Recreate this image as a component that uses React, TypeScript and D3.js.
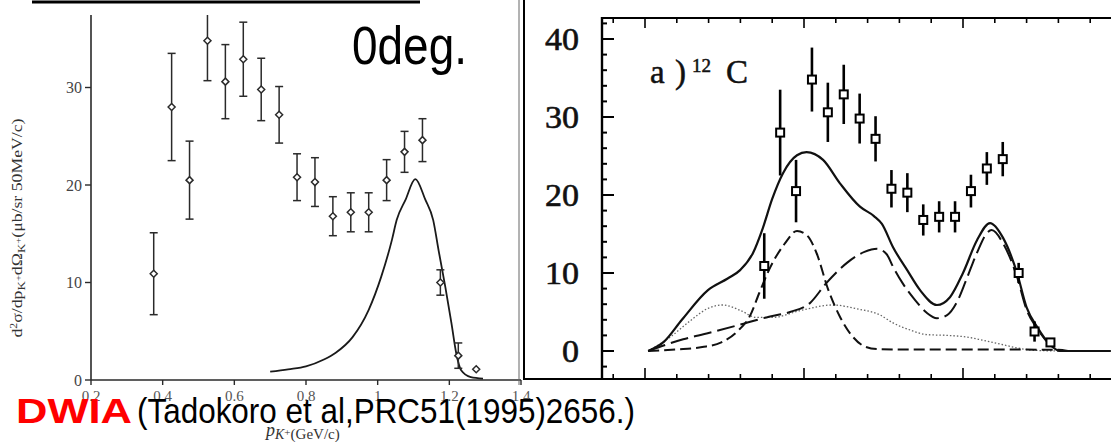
import React from 'react';
import * as d3 from 'd3';

// ---- data (shared by both panels: 12C(pi+,K+) spectrum, 0 deg) ----
const momenta = [0.375, 0.425, 0.475, 0.525, 0.575, 0.625, 0.675, 0.725, 0.775, 0.825, 0.875, 0.925, 0.975, 1.025, 1.075, 1.125, 1.175, 1.225, 1.275];
const crossSection = [10.9, 28.0, 20.5, 34.8, 30.6, 32.9, 29.8, 27.2, 20.8, 20.3, 16.8, 17.2, 17.2, 20.5, 23.4, 24.6, 10.0, 2.5, 1.1];
const errors = [4.2, 5.5, 4.0, 4.1, 3.8, 3.8, 3.2, 2.9, 2.4, 2.5, 2.0, 2.0, 2.0, 2.1, 2.1, 2.2, 1.3, 1.3, 0];

// left panel: DWIA curve
const dwiaP = [0.7, 0.75, 0.8, 0.85, 0.883, 0.93, 0.975, 1.01, 1.04, 1.053, 1.078, 1.105, 1.133, 1.155, 1.17, 1.189, 1.206, 1.219, 1.233, 1.26, 1.294];
const dwiaV = [0.85, 1.1, 1.4, 2.1, 2.8, 4.4, 7.2, 10.6, 14.4, 16.4, 18.5, 20.6, 18.5, 16.4, 13.3, 9.5, 5.8, 2.8, 1.0, 0.3, 0.15];

// right panel: calculated curves
const totalP = [0.01, 0.06, 0.116, 0.198, 0.26, 0.3, 0.34, 0.37, 0.4, 0.434, 0.478, 0.508, 0.56, 0.613, 0.676, 0.72, 0.745, 0.78, 0.824, 0.865, 0.918, 0.959, 1.0, 1.044, 1.085, 1.126, 1.17, 1.2, 1.233, 1.274, 1.305, 1.38, 1.465];
const totalV = [0, 1.2, 4.0, 7.8, 9.3, 10.4, 12.6, 15.7, 19.5, 22.8, 25.1, 25.5, 24.5, 21.5, 18.5, 17.3, 16.3, 13.3, 10.4, 7.8, 5.9, 6.9, 10.0, 14.2, 16.4, 14.5, 10.0, 5.6, 3.1, 0.8, 0, 0, 0];

const longDashP = [0.01, 0.12, 0.2, 0.31, 0.39, 0.456, 0.52, 0.57, 0.635, 0.69, 0.73, 0.76, 0.78, 0.81, 0.85, 0.886, 0.918, 0.95, 0.98, 1.01, 1.044, 1.075, 1.09, 1.126, 1.17, 1.2, 1.233, 1.274, 1.305];
const longDashV = [0, 1.5, 2.3, 3.5, 4.4, 5.0, 6.2, 8.7, 11.3, 12.7, 13.1, 12.4, 10.8, 8.7, 6.5, 4.9, 4.2, 4.6, 6.2, 9.1, 12.6, 15.1, 15.5, 13.8, 9.5, 5.3, 2.9, 0.8, 0];

const medDashP = [0.01, 0.1, 0.18, 0.24, 0.29, 0.33, 0.36, 0.39, 0.44, 0.478, 0.51, 0.54, 0.575, 0.613, 0.648, 0.69, 0.73, 0.8, 1.0, 1.3, 1.33];
const medDashV = [0, 0.2, 0.5, 1.1, 2.5, 4.5, 7.5, 10.4, 13.8, 15.4, 14.8, 12.5, 8.0, 4.4, 2.1, 0.6, 0.25, 0.2, 0.2, 0.15, 0];

const dottedP = [0.01, 0.08, 0.14, 0.2, 0.245, 0.3, 0.35, 0.4, 0.49, 0.59, 0.667, 0.74, 0.78, 0.833, 0.886, 0.95, 1.01, 1.06, 1.126, 1.17, 1.22, 1.3];
const dottedV = [0, 1.8, 3.8, 5.5, 5.9, 5.2, 4.3, 4.3, 5.2, 5.9, 5.4, 4.6, 3.6, 2.7, 2.1, 2.0, 1.8, 1.4, 0.8, 0.4, 0.1, 0];

// ticks
const leftXTicks = [0.2, 0.4, 0.6, 0.8, 1.0, 1.2, 1.4];
const leftXLabels = ['0.2', '0.4', '0.6', '0.8', '1', '1.2', '1.4'];
const leftYTicks = [0, 10, 20, 30];
const rightYTicks = [0, 10, 20, 30, 40];
const rightYMinor = d3.range(-2, 43, 2);
const rightXTicks = d3.range(-1, 15).map((i) => i / 10);

const serif = '"Liberation Serif", "Times New Roman", serif';
const sans = '"Liberation Sans", Arial, sans-serif';

export default function App() {
  // left panel scales
  const lx = d3.scaleLinear().domain([0.2, 1.4]).range([91, 521]);
  const ly = d3.scaleLinear().domain([0, 30]).range([380, 87.5]);
  // right panel scales
  const rx = d3.scaleLinear().domain([0, 1]).range([645, 963]);
  const ry = d3.scaleLinear().domain([0, 40]).range([351, 39]);

  const mkLine = (xs: number[], ys: number[], sx: any, sy: any) =>
    d3
      .line<number>()
      .x((_, i) => sx(xs[i]))
      .y((_, i) => sy(ys[i]))
      .curve(d3.curveMonotoneX)(xs) || '';

  const leftInk = '#2a2a2a';
  const rightInk = '#111';

  return (
    <svg
      width={1111}
      height={442}
      style={{ position: 'absolute', left: 0, top: 0, display: 'block', background: '#fff' }}
    >
      <defs>
        <clipPath id="leftClip">
          <rect x={60} y={15} width={470} height={380} />
        </clipPath>
      </defs>

      {/* top rule */}
      <line x1={32} x2={420} y1={2} y2={2} stroke="#000" strokeWidth={3} />

      {/* ---------------- LEFT PANEL ---------------- */}
      <g>
        <line x1={lx(0.2)} x2={lx(0.2)} y1={15} y2={ly(0)} stroke={leftInk} strokeWidth={1.6} />
        <line x1={lx(0.2)} x2={lx(1.4)} y1={ly(0)} y2={ly(0)} stroke={leftInk} strokeWidth={1.6} />
        {leftYTicks.map((t) => (
          <g key={'ly' + t}>
            <line x1={lx(0.2) - 6} x2={lx(0.2)} y1={ly(t)} y2={ly(t)} stroke={leftInk} strokeWidth={1.4} />
            <text x={lx(0.2) - 9} y={ly(t)} dy="0.35em" textAnchor="end" fontFamily={serif} fontSize={16} fill="#444">
              {t}
            </text>
          </g>
        ))}
        {leftXTicks.map((t, i) => (
          <g key={'lx' + t}>
            <line x1={lx(t)} x2={lx(t)} y1={ly(0)} y2={ly(0) + 5} stroke={leftInk} strokeWidth={1.4} />
            <text x={lx(t)} y={ly(0) + 21} textAnchor="middle" fontFamily={serif} fontSize={15} fill="#555">
              {leftXLabels[i]}
            </text>
          </g>
        ))}

        {/* y label */}
        <g transform="translate(22,228) rotate(-90)">
          <text textAnchor="middle" fontFamily={serif} fontSize={15} fill="#333" textLength={219} lengthAdjust="spacingAndGlyphs">
            d<tspan dy={-5} fontSize={10}>2</tspan>
            <tspan dy={5}>σ/dp</tspan>
            <tspan dy={3} fontSize={11}>K</tspan>
            <tspan dy={-4} fontSize={9}>+</tspan>
            <tspan dy={1}>dΩ</tspan>
            <tspan dy={3} fontSize={11}>K</tspan>
            <tspan dy={-4} fontSize={9}>+</tspan>
            <tspan dy={1}>(μb/sr 50MeV/c)</tspan>
          </text>
        </g>

        {/* x label */}
        <text x={266} y={436} fontFamily={serif} fontSize={18} fontStyle="italic" fill="#333">
          p
          <tspan dy={3} fontSize={14}>K</tspan>
          <tspan dy={-3} fontSize={11} fontStyle="normal">+</tspan>
          <tspan dy={3} fontSize={15} fontStyle="normal">(GeV/c)</tspan>
        </text>

        <path d={mkLine(dwiaP, dwiaV, lx, ly)} fill="none" stroke="#1a1a1a" strokeWidth={1.8} />

        <g clipPath="url(#leftClip)">
          {momenta.map((p, i) => {
            const x = lx(p);
            const y = ly(crossSection[i]);
            const e = errors[i];
            const yt = ly(crossSection[i] + e);
            const yb = ly(crossSection[i] - e);
            return (
              <g key={'lp' + i}>
                {e > 0 && (
                  <g stroke={leftInk} strokeWidth={1.5}>
                    <line x1={x} x2={x} y1={yt} y2={yb} />
                    {i !== 3 && <line x1={x - 4} x2={x + 4} y1={yt} y2={yt} />}
                    <line x1={x - 4} x2={x + 4} y1={yb} y2={yb} />
                  </g>
                )}
                <path
                  d={`M${x},${y - 3.5}L${x + 3.5},${y}L${x},${y + 3.5}L${x - 3.5},${y}Z`}
                  fill="#fff"
                  stroke={leftInk}
                  strokeWidth={1.5}
                />
              </g>
            );
          })}
        </g>
      </g>

      {/* ---------------- RIGHT PANEL ---------------- */}
      <g>
        <line x1={519} x2={519} y1={0} y2={385} stroke="#666" strokeWidth={1} />
        <line x1={524} x2={524} y1={0} y2={380} stroke="#000" strokeWidth={2} />
        <line x1={523} x2={1111} y1={379} y2={379} stroke="#000" strokeWidth={2.2} />
        <line x1={601} x2={1111} y1={18} y2={18} stroke="#000" strokeWidth={2.2} />
        <line x1={602} x2={602} y1={17} y2={380} stroke="#000" strokeWidth={2.4} />

        {rightYMinor.map((v) => (
          <line
            key={'rym' + v}
            x1={602}
            x2={602 + (v % 10 === 0 ? 12 : 5)}
            y1={ry(v)}
            y2={ry(v)}
            stroke="#000"
            strokeWidth={2}
          />
        ))}
        {rightYTicks.map((v) => (
          <text
            key={'ryl' + v}
            x={579}
            y={ry(v)}
            dy="0.35em"
            textAnchor="end"
            fontFamily={serif}
            fontSize={31}
            fill="#111"
            stroke="#111"
            strokeWidth={0.6}
            textLength={v === 0 ? 17 : 34}
            lengthAdjust="spacingAndGlyphs"
          >
            {v}
          </text>
        ))}
        {rightXTicks.map((p) => {
          const major = Math.abs(p * 2 - Math.round(p * 2)) < 1e-6;
          return (
            <g key={'rx' + p}>
              <line x1={rx(p)} x2={rx(p)} y1={18} y2={18 + (major ? 10 : 5)} stroke="#000" strokeWidth={1.6} />
              <line x1={rx(p)} x2={rx(p)} y1={379} y2={379 - (major ? 11 : 5)} stroke="#000" strokeWidth={1.6} />
            </g>
          );
        })}

        {/* panel label */}
        <g fontFamily={serif} fill="#111" stroke="#111" strokeWidth={0.5}>
          <text x={650} y={83} fontSize={33}>a</text>
          <text x={675} y={83} fontSize={33}>)</text>
          <text x={692} y={72} fontSize={19}>12</text>
          <text x={726} y={83} fontSize={33}>C</text>
        </g>

        {/* curves */}
        <path d={mkLine(dottedP, dottedV, rx, ry)} fill="none" stroke="#666" strokeWidth={1.3} strokeDasharray="1.5,2" />
        <path d={mkLine(medDashP, medDashV, rx, ry)} fill="none" stroke={rightInk} strokeWidth={2} strokeDasharray="11,5" />
        <path d={mkLine(longDashP, longDashV, rx, ry)} fill="none" stroke={rightInk} strokeWidth={2} strokeDasharray="18,6" />
        <path d={mkLine(totalP, totalV, rx, ry)} fill="none" stroke={rightInk} strokeWidth={2.2} />

        {momenta.map((p, i) => {
          const x = rx(p);
          const y = ry(crossSection[i]);
          const e = errors[i];
          return (
            <g key={'rp' + i}>
              {e > 0 && (
                <line x1={x} x2={x} y1={ry(crossSection[i] + e)} y2={ry(crossSection[i] - e)} stroke="#000" strokeWidth={2.6} />
              )}
              <rect x={x - 4} y={y - 4} width={8} height={8} fill="#fff" stroke="#000" strokeWidth={2} />
            </g>
          );
        })}
      </g>

      {/* ---------------- overlay texts ---------------- */}
      <text x={352} y={64} fontFamily={sans} fontSize={54} fill="#000" textLength={115} lengthAdjust="spacingAndGlyphs">
        0deg.
      </text>
      <text x={16} y={423} fontFamily={sans} fontSize={35} fontWeight="bold" fill="#ff0000" textLength={116} lengthAdjust="spacingAndGlyphs">
        DWIA
      </text>
      <text x={137} y={423} fontFamily={sans} fontSize={35} fill="#000" textLength={498} lengthAdjust="spacingAndGlyphs">
        (Tadokoro et al,PRC51(1995)2656.)
      </text>
    </svg>
  );
}
